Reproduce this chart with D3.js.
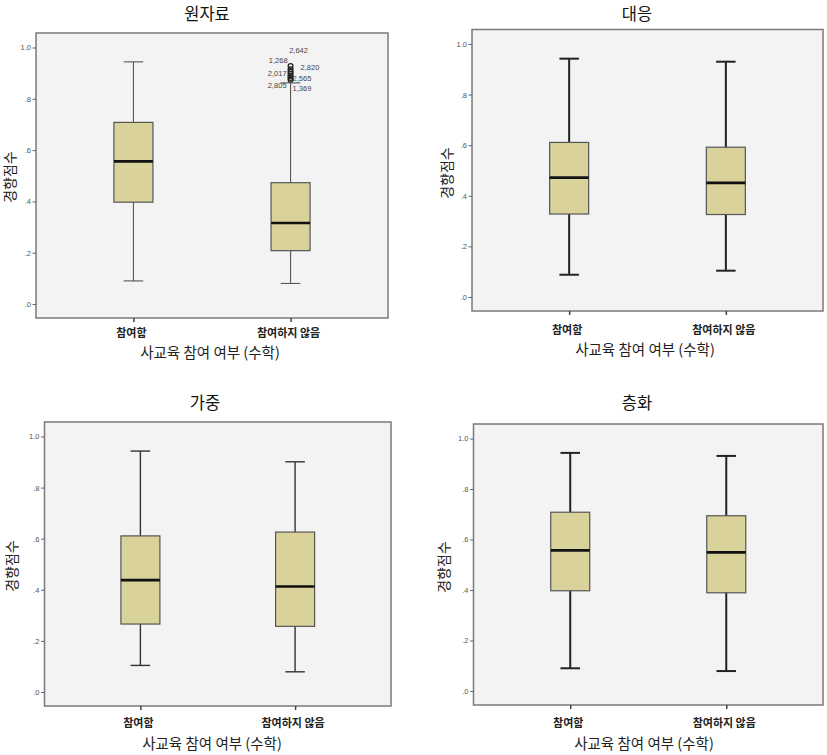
<!DOCTYPE html>
<html>
<head>
<meta charset="utf-8">
<script src="https://cdn.jsdelivr.net/npm/d3@7"></script>
<style>
  html, body { margin: 0; padding: 0; background: #ffffff; }
  svg { display: block; }
</style>
</head>
<body>
<svg id="chart" width="827" height="755"></svg>
<script>
// ---------------- DATA ----------------
const panelTitles = ["원자료", "대응", "가중", "층화"];
const categories = ["참여함", "참여하지 않음"];
const xAxisTitle = "사교육 참여 여부 (수학)";
const yAxisTitle = "경향점수";
const yTickValues = [0, 0.2, 0.4, 0.6, 0.8, 1.0];
const yTickLabels = [".0", ".2", ".4", ".6", ".8", "1.0"];

// [lower whisker, Q1, median, Q3, upper whisker] per category
const rawStats    = [[0.090, 0.397, 0.556, 0.708, 0.944], [0.080, 0.208, 0.316, 0.473, 0.862]];
const matchStats  = [[0.088, 0.328, 0.472, 0.611, 0.942], [0.104, 0.326, 0.451, 0.592, 0.930]];
const weightStats = [[0.104, 0.266, 0.438, 0.611, 0.943], [0.079, 0.257, 0.413, 0.626, 0.901]];
const stratStats  = [[0.090, 0.397, 0.557, 0.708, 0.943], [0.079, 0.389, 0.549, 0.694, 0.931]];

// outliers in the 원자료 panel, category "참여하지 않음"
const rawOutlierValues = [0.928, 0.915, 0.905, 0.897, 0.889, 0.881, 0.874];
const rawOutlierLabels = ["2,642", "1,268", "2,820", "2,017", "2,565", "2,805", "1,369"];

// ---------------- LAYOUT / STYLE ----------------
const outlierLabelLayout = [
  { dx: 8, dy: -12.8, anchor: "middle" },
  { dx: -3, dy: -6, anchor: "end" },
  { dx: 10, dy: -1.7, anchor: "start" },
  { dx: -4, dy: 2, anchor: "end" },
  { dx: 2, dy: 5.2, anchor: "start" },
  { dx: -4, dy: 10.4, anchor: "end" },
  { dx: 2, dy: 11.3, anchor: "start" }
];

const panelLayouts = [
  { frame: [36, 33, 388, 318], title: [207, 19.5], xTitle: [210, 358], yTitle: [9, 177], catY: 337, sw: 1.1, lineColor: "#555" },
  { frame: [472, 29.5, 823, 311], title: [637, 19.5], xTitle: [645, 355], yTitle: [446, 173], catY: 334, sw: 2, lineColor: "#222" },
  { frame: [44.5, 422, 391, 706], title: [205, 409], xTitle: [212, 749], yTitle: [10.5, 566], catY: 726.5, sw: 1.4, lineColor: "#333" },
  { frame: [473.5, 424, 823, 705], title: [637, 409], xTitle: [644, 749], yTitle: [443, 567], catY: 727, sw: 2, lineColor: "#222" }
];

const allStats = [rawStats, matchStats, weightStats, stratStats];
const boxFill = "#d9d39b";
const plotBg = "#f3f3f3";
const frameColor = "#7a7a7a";
const korFont = "'Noto Sans CJK KR', 'Noto Sans', sans-serif";
const latFont = "'Liberation Sans', Arial, sans-serif";

const svg = d3.select("#chart");

panelLayouts.forEach((L, pi) => {
  const [x0, y0, x1, y1] = L.frame;
  const g = svg.append("g");
  const stats = allStats[pi];

  const x = d3.scalePoint().domain(categories).range([x0, x1]).padding(0.62);
  const y = d3.scaleLinear().domain([0, 1]).range([y1 - 14, y0 + 14.5]);

  // plot background + frame
  g.append("rect")
    .attr("x", x0).attr("y", y0)
    .attr("width", x1 - x0).attr("height", y1 - y0)
    .attr("fill", plotBg)
    .attr("stroke", frameColor).attr("stroke-width", 1.5);

  // y axis
  const yAxis = d3.axisLeft(y)
    .tickValues(yTickValues)
    .tickFormat((d, i) => yTickLabels[i])
    .tickSize(3.5).tickPadding(1.5);
  const ya = g.append("g").attr("transform", `translate(${x0},0)`).call(yAxis);
  ya.select(".domain").remove();
  ya.selectAll("line").attr("stroke", "#666");
  ya.selectAll("text").attr("font-family", latFont).attr("font-size", 7.5).attr("fill", "#555");

  // x axis (ticks below frame)
  const xAxis = d3.axisBottom(x).tickSize(4).tickFormat("");
  const xa = g.append("g").attr("transform", `translate(0,${y1})`).call(xAxis);
  xa.select(".domain").remove();
  xa.selectAll("line").attr("stroke", "#444").attr("stroke-width", 1.5);

  // category labels
  g.selectAll("text.cat").data(categories).join("text")
    .attr("class", "cat")
    .attr("x", d => x(d) - 2)
    .attr("y", L.catY)
    .attr("text-anchor", "middle")
    .attr("font-family", korFont).attr("font-weight", "bold")
    .attr("font-size", 11).attr("fill", "#222")
    .text(d => d);

  const boxW = 39, capW = 19.5;

  const boxes = g.selectAll("g.box").data(categories).join("g").attr("class", "box");
  boxes.each(function (cat, ci) {
    const s = stats[ci];
    const cx = x(cat);
    const b = d3.select(this);
    // whisker line
    b.append("line")
      .attr("x1", cx).attr("x2", cx)
      .attr("y1", y(s[0])).attr("y2", y(s[4]))
      .attr("stroke", L.lineColor).attr("stroke-width", L.sw);
    // caps
    [s[0], s[4]].forEach(v => {
      b.append("line")
        .attr("x1", cx - capW / 2).attr("x2", cx + capW / 2)
        .attr("y1", y(v)).attr("y2", y(v))
        .attr("stroke", L.lineColor).attr("stroke-width", L.sw);
    });
    // box
    b.append("rect")
      .attr("x", cx - boxW / 2).attr("y", y(s[3]))
      .attr("width", boxW).attr("height", y(s[1]) - y(s[3]))
      .attr("fill", boxFill)
      .attr("stroke", "#555").attr("stroke-width", 1.2);
    // median
    b.append("line")
      .attr("x1", cx - boxW / 2).attr("x2", cx + boxW / 2)
      .attr("y1", y(s[2])).attr("y2", y(s[2]))
      .attr("stroke", "#111").attr("stroke-width", 2.6);
  });

  // outliers for raw panel
  if (pi === 0) {
    const cx = x(categories[1]);
    g.selectAll("circle.out").data(rawOutlierValues).join("circle")
      .attr("class", "out")
      .attr("cx", cx).attr("cy", d => y(d))
      .attr("r", 2.4)
      .attr("fill", "none").attr("stroke", "#222").attr("stroke-width", 1.3);
    g.selectAll("text.outlab").data(rawOutlierValues).join("text")
      .attr("class", "outlab")
      .attr("x", (d, i) => cx + outlierLabelLayout[i].dx)
      .attr("y", (d, i) => y(d) + outlierLabelLayout[i].dy)
      .attr("text-anchor", (d, i) => outlierLabelLayout[i].anchor)
      .attr("font-family", latFont).attr("font-size", 7.5).attr("fill", "#444")
      .text((d, i) => rawOutlierLabels[i]);
  }

  // panel title
  g.append("text")
    .attr("x", L.title[0]).attr("y", L.title[1])
    .attr("text-anchor", "middle")
    .attr("font-family", korFont).attr("font-size", 16.5).attr("fill", "#111")
    .text(panelTitles[pi]);

  // x axis title
  g.append("text")
    .attr("x", L.xTitle[0]).attr("y", L.xTitle[1])
    .attr("text-anchor", "middle")
    .attr("font-family", korFont).attr("font-size", 14.5).attr("fill", "#222")
    .text(xAxisTitle);

  // y axis title
  g.append("text")
    .attr("transform", `translate(${L.yTitle[0]},${L.yTitle[1]}) rotate(-90)`)
    .attr("text-anchor", "middle")
    .attr("dominant-baseline", "central")
    .attr("font-family", korFont).attr("font-size", 14).attr("fill", "#222")
    .text(yAxisTitle);
});
</script>
</body>
</html>
